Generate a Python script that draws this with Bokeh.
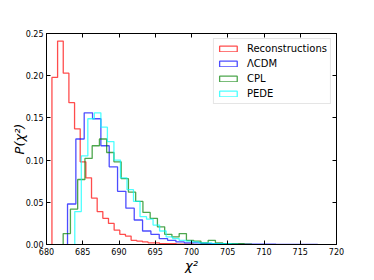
import numpy as np
from bokeh.plotting import figure
from bokeh.models import FixedTicker, LinearAxis, Legend, LegendItem, Range1d, PrintfTickFormatter
from bokeh.embed import file_html
from bokeh.resources import INLINE

# --- data: normalised histograms P(chi^2) (bin start, bin width, bin heights) ---
labels = ["Reconstructions", "\u039bCDM", "CPL", "PEDE"]
colors = ["#ff0000", "#0000ff", "#008000", "#00ffff"]

recon_start, recon_width = 680.75, 0.78
recon_counts = [0.198, 0.241, 0.203, 0.168, 0.137, 0.098, 0.079, 0.055, 0.039, 0.031,
                0.025, 0.017, 0.012, 0.010, 0.005, 0.004, 0.003, 0.002, 0.002, 0.001,
                0.001, 0.001, 0.0005, 0.0005, 0.0003]

lcdm_start, lcdm_width = 682.9, 1.15
lcdm_counts = [0.048, 0.125, 0.156, 0.149, 0.117, 0.092, 0.063, 0.043, 0.029, 0.016,
               0.012, 0.007, 0.005, 0.003, 0.002, 0.002, 0.001, 0.001, 0.001, 0.0005,
               0.0005, 0.0005, 0.0003, 0.0003, 0.0003, 0.0002, 0.0002, 0.0002, 0.0001, 0.0001]

cpl_start, cpl_width = 682.3, 1.0
cpl_counts = [0.013, 0.042, 0.077, 0.102, 0.117, 0.125, 0.109, 0.098, 0.078, 0.062,
              0.051, 0.038, 0.031, 0.021, 0.012, 0.009, 0.013, 0.005, 0.004, 0.002,
              0.005, 0.002, 0.001, 0.001, 0.001, 0.0005]

pede_start, pede_width = 683.9, 0.9
pede_counts = [0.039, 0.105, 0.149, 0.156, 0.139, 0.122, 0.100, 0.079, 0.065, 0.051,
               0.033, 0.030, 0.023, 0.016, 0.009, 0.007, 0.005, 0.004, 0.003, 0.002,
               0.002, 0.001, 0.001, 0.001, 0.0005]

x_ticks = [680, 685, 690, 695, 700, 705, 710, 715, 720]
y_ticks = [0.0, 0.05, 0.10, 0.15, 0.20, 0.25]

series = [
    (recon_start, recon_width, recon_counts),
    (lcdm_start, lcdm_width, lcdm_counts),
    (cpl_start, cpl_width, cpl_counts),
    (pede_start, pede_width, pede_counts),
]

FONT = "DejaVu Sans"

p = figure(width=374, height=280, output_backend="svg", toolbar_location=None,
           x_range=Range1d(680, 720), y_range=Range1d(0, 0.25),
           min_border_left=46, min_border_right=38, min_border_top=33, min_border_bottom=36)
p.extra_x_ranges = {"legend_only": Range1d(0, 1)}
p.background_fill_color = "white"
p.border_fill_color = "white"
p.outline_line_color = "black"
p.outline_line_width = 1
p.xgrid.visible = False
p.ygrid.visible = False


def bin_edges(start, width, counts):
    return start + width * np.arange(len(counts) + 1)


def step_outline(start, width, counts):
    edges = bin_edges(start, width, counts)
    xs, ys = [edges[0]], [0.0]
    for i, c in enumerate(counts):
        xs += [edges[i], edges[i + 1]]
        ys += [c, c]
    xs.append(edges[-1])
    ys.append(0.0)
    return xs, ys


items = []
for (start, width, counts), col, lab in zip(series, colors, labels):
    xs, ys = step_outline(start, width, counts)
    p.line(xs, ys, line_color=col, line_width=1.3, line_alpha=0.7)
    edges = bin_edges(start, width, counts)
    # same bins, mapped onto a range that is off-screen: only used as legend patch
    patch = p.quad(left=edges[:-1], right=edges[1:], top=counts, bottom=0,
                   x_range_name="legend_only", fill_alpha=0,
                   line_color=col, line_alpha=0.7, line_width=1.3)
    items.append(LegendItem(label=lab, renderers=[patch]))

legend = Legend(items=items, location="top_right")
legend.margin = 5
legend.padding = 3
legend.spacing = 2
legend.label_height = 13
legend.glyph_height = 7
legend.glyph_width = 22
legend.label_standoff = 8
legend.label_text_font = FONT
legend.label_text_font_size = "10px"
legend.label_text_color = "black"
legend.border_line_color = "#cccccc"
legend.border_line_width = 1
legend.background_fill_color = "white"
legend.background_fill_alpha = 0.8
p.add_layout(legend, "center")


def style_axis(ax, ticks, show_labels):
    ax.ticker = FixedTicker(ticks=ticks)
    ax.minor_tick_line_color = None
    ax.major_tick_in = 4
    ax.major_tick_out = 0
    ax.major_tick_line_color = "black"
    ax.axis_line_color = "black"
    ax.major_label_text_font = FONT
    ax.major_label_text_font_size = "8px"
    if show_labels:
        ax.major_label_text_color = "black"
        ax.major_label_standoff = 3
    else:
        ax.major_label_text_color = None
        ax.major_label_standoff = 0


style_axis(p.xaxis[0], x_ticks, True)
style_axis(p.yaxis[0], y_ticks, True)
p.yaxis[0].formatter = PrintfTickFormatter(format="%.2f")
p.xaxis[0].axis_label = "\u03c7\u00b2"
p.yaxis[0].axis_label = "P(\u03c7\u00b2)"
for ax in (p.xaxis[0], p.yaxis[0]):
    ax.axis_label_text_font = FONT
    ax.axis_label_text_font_size = "13px"
    ax.axis_label_text_font_style = "italic"
    ax.axis_label_text_color = "black"
p.xaxis[0].axis_label_standoff = 0
p.yaxis[0].axis_label_standoff = -4

top_ax = LinearAxis()
style_axis(top_ax, x_ticks, False)
p.add_layout(top_ax, "above")
right_ax = LinearAxis()
style_axis(right_ax, y_ticks, False)
p.add_layout(right_ax, "right")

open("out.html", "w").write(file_html(p, INLINE))
